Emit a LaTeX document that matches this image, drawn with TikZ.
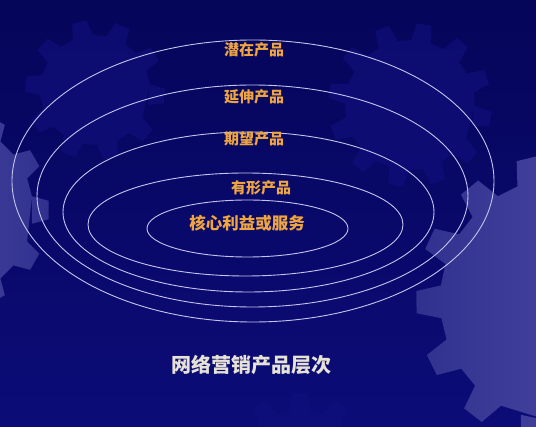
\documentclass[tikz,border=0pt]{standalone}
\usepackage{fontspec}
\newfontfamily\cjk{Noto Sans CJK SC}
\usetikzlibrary{shapes.geometric}
\definecolor{bgtop}{HTML}{05055A}
\definecolor{bgbot}{HTML}{0C0C78}
\definecolor{gearlight}{HTML}{5656AE}
\definecolor{geardark}{HTML}{30308E}
\definecolor{gearfaint}{HTML}{10107E}
\definecolor{ringc}{HTML}{C4C4F0}
\definecolor{labelc}{HTML}{EFA640}
\definecolor{titlec}{HTML}{E6E2D6}
\newcommand{\drawgear}[6]{% #1 centre, #2 inner r, #3 outer r, #4 teeth, #5 phase, #6 style
  \begin{scope}[shift={#1}]
    \pgfmathsetmacro{\gs}{360/#4}
    \path[#6] ({#5-0.3*\gs}:#2)
      \foreach \k in {1,...,#4}{
        -- ({#5+\k*\gs-0.3*\gs}:#2) -- ({#5+\k*\gs-0.17*\gs}:#3)
        -- ({#5+\k*\gs+0.17*\gs}:#3) -- ({#5+\k*\gs+0.3*\gs}:#2)
      } -- cycle;
  \end{scope}}
\tikzset{
  ring/.style={ellipse, draw=ringc, line width=0.9pt, inner sep=0pt},
  lab/.style={text=labelc, font=\cjk\bfseries\fontsize{15}{15}\selectfont, inner sep=0pt},
  corelab/.style={text=labelc, font=\cjk\bfseries\fontsize{16.5}{16.5}\selectfont, inner sep=0pt},
  titlelab/.style={text=titlec, font=\cjk\bfseries\fontsize{20}{20}\selectfont, inner sep=0pt}
}
\begin{document}
\begin{tikzpicture}[x=1pt,y=-1pt]
\useasboundingbox (0,0) rectangle (536,427);
\clip (0,0) rectangle (536,427);
\fill[top color=bgtop, bottom color=bgbot] (0,0) rectangle (536,427);
% faint background gears
\drawgear{(95,90)}{55}{70}{10}{5}{fill=gearfaint, opacity=0.6}
\drawgear{(410,105)}{65}{82}{12}{10}{fill=gearfaint, opacity=0.6}
\drawgear{(300,475)}{65}{82}{12}{0}{fill=gearfaint, opacity=0.6}
% visible gears
\drawgear{(-55,210)}{88}{104}{12}{0}{left color=gearlight, right color=geardark}
\drawgear{(562,300)}{122}{146}{14}{102}{left color=geardark, right color=gearlight}
% rings
\node[ring, minimum width=482pt, minimum height=282pt] (potential) at (253,181) {};
\node[ring, minimum width=431pt, minimum height=222pt] (extended) at (252.5,196) {};
\node[ring, minimum width=371pt, minimum height=160pt] (expected) at (248.5,212) {};
\node[ring, minimum width=315pt, minimum height=103pt] (tangible) at (245.5,224.5) {};
\node[ring, minimum width=201pt, minimum height=57pt] (core) at (247.5,228.5) {};
% labels
\node[lab] (lpot) at (254,50) {潜在产品};
\node[lab] (lext) at (254,97) {延伸产品};
\node[lab] (lexp) at (254,139) {期望产品};
\node[lab] (ltan) at (261,188) {有形产品};
\node[corelab] (lcore) at (247,223) {核心利益或服务};
\node[titlelab] (title) at (251,365) {网络营销产品层次};
\end{tikzpicture}
\end{document}
